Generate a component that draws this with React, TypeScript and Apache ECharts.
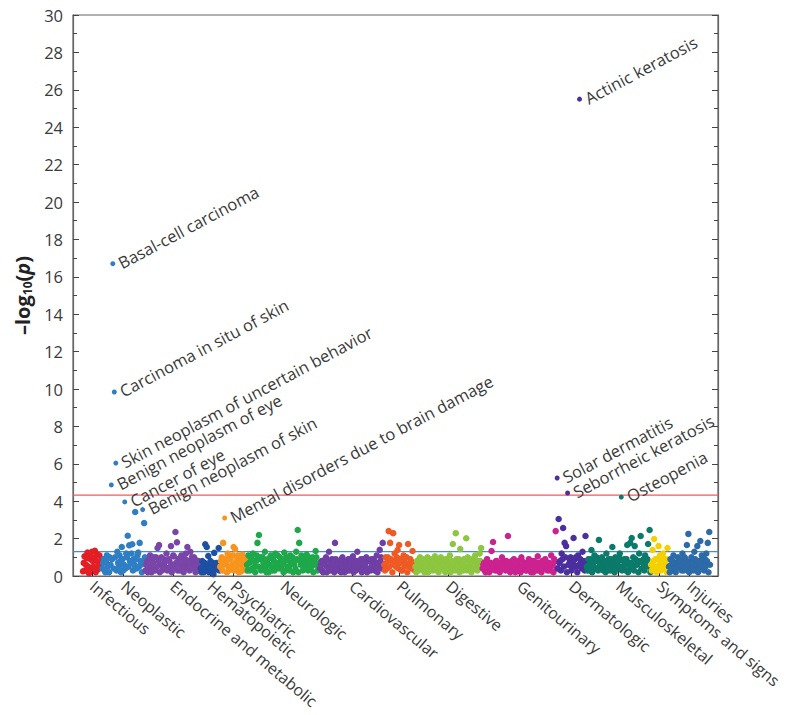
import React, { useEffect, useRef } from "react";
import * as echarts from "echarts";

const categories = [
  "Infectious", "Neoplastic", "Endocrine and metabolic", "Hematopoietic", "Psychiatric",
  "Neurologic", "Cardiovascular", "Pulmonary", "Digestive", "Genitourinary",
  "Dermatologic", "Musculoskeletal", "Symptoms and signs", "Injuries",
];
const colors = [
  "#e31e24", "#2f7ec4", "#7a45a8", "#1d4fa3", "#f7941d",
  "#1ea84a", "#6f3fa5", "#ee5a24", "#8dc63f", "#cc2290",
  "#4b2f9f", "#0b7a6b", "#f5d000", "#2c6aa8",
];

const infectious = [0.25, 0.7, 1.05, 0.3, 0.6, 0.95, 1.25, 0.5, 0.15, 1.1, 0.9, 0.4, 1.3, 0.8, 0.5, 1.0, 1.35, 0.2, 0.8, 1.15, 0.35, 0.6, 1.1, 0.45, 0.65, 0.9];
const neoplastic = [0.4, 0.7, 0.9, 0.3, 0.2, 0.8, 1.1, 0.5, 0.6, 0.2, 1.0, 0.6, 4.87, 0.9, 16.7, 0.4, 9.84, 1.0, 6.04, 0.3, 1.3, 0.7, 0.5, 1.1, 0.8, 0.2, 1.55, 0.9, 0.3, 0.6, 3.96, 0.4, 1.2, 1.0, 2.15, 0.5, 1.64, 0.8, 0.7, 1.2, 1.7, 0.3, 0.9, 0.6, 3.42, 0.9, 0.4, 1.1, 1.25, 0.5, 1.77, 0.8, 0.6, 0.2, 3.55, 0.7, 2.83, 1.0];
const endocrine = [0.3, 0.6, 0.8, 0.2, 0.5, 0.9, 1.1, 0.4, 0.2, 0.7, 0.7, 1.0, 0.4, 0.3, 1.0, 0.5, 1.5, 0.8, 1.65, 0.2, 0.6, 1.0, 0.3, 0.6, 0.9, 0.4, 0.5, 0.8, 1.2, 0.3, 0.4, 0.9, 0.8, 0.5, 1.6, 0.2, 0.6, 1.1, 1.05, 0.4, 2.35, 0.7, 1.8, 0.3, 0.9, 0.6, 0.3, 1.0, 1.1, 0.5, 0.7, 0.2, 0.5, 0.9, 1.2, 0.4, 1.55, 0.7, 0.8, 0.3, 1.3, 0.6, 1.0, 0.8, 0.4, 1.0, 0.9, 0.2, 0.6, 0.5, 0.3, 0.8, 0.7, 0.4];
const hematopoietic = [0.4, 0.2, 0.8, 0.5, 0.2, 0.7, 1.7, 0.3, 1.55, 0.6, 1.07, 0.2, 0.5, 0.8, 0.3, 0.5, 0.7, 0.1, 1.24, 0.4, 0.6, 0.7, 0.35, 0.5, 1.5, 0.3];
const psychiatric = [0.5, 0.8, 1.0, 0.3, 1.77, 0.6, 3.1, 0.9, 0.7, 0.2, 1.2, 0.5, 0.3, 1.0, 0.9, 0.4, 0.6, 1.1, 1.55, 0.3, 1.44, 0.7, 0.4, 0.9, 1.1, 0.2, 0.8, 0.6, 0.25, 1.0, 1.15, 0.4, 0.6, 0.8, 0.9, 0.3];
const neurologic = [0.6, 0.3, 1.1, 0.7, 0.3, 1.0, 0.9, 0.4, 1.2, 0.8, 0.5, 0.2, 0.8, 1.1, 1.77, 0.5, 2.19, 0.9, 1.0, 0.3, 0.4, 1.0, 0.7, 0.6, 1.3, 0.4, 0.2, 0.8, 0.9, 0.2, 0.6, 1.0, 1.1, 0.5, 0.3, 0.9, 0.8, 0.3, 1.2, 0.7, 0.5, 1.1, 0.7, 0.4, 1.0, 0.6, 0.4, 0.9, 0.6, 0.2, 1.25, 0.8, 0.3, 1.0, 0.9, 0.5, 0.5, 0.3, 1.1, 0.7, 0.7, 1.0, 0.2, 0.6, 0.8, 0.4, 1.3, 0.9, 2.46, 0.2, 1.77, 0.8, 0.6, 1.1, 1.0, 0.3, 0.4, 0.7, 0.9, 0.5, 1.15, 0.9, 0.3, 1.0, 0.7, 0.4, 0.5, 0.8, 1.0, 0.2, 0.8, 0.6, 1.34, 1.0, 0.6, 0.3, 0.4, 0.7];
const cardiovascular = [0.4, 0.6, 0.8, 0.3, 0.2, 0.7, 0.6, 0.9, 1.0, 0.2, 0.5, 0.5, 1.3, 0.8, 0.3, 0.4, 0.9, 0.6, 0.7, 0.2, 1.77, 0.9, 0.4, 0.5, 0.8, 0.3, 0.6, 0.7, 0.2, 0.9, 1.0, 0.4, 0.5, 0.2, 0.7, 0.8, 0.3, 0.6, 0.9, 0.3, 0.6, 0.9, 0.4, 0.7, 1.05, 0.2, 0.8, 0.5, 0.3, 0.8, 1.3, 0.4, 0.5, 0.6, 0.7, 0.9, 0.2, 0.3, 0.9, 0.5, 0.6, 0.7, 1.0, 0.2, 0.4, 0.8, 0.8, 0.4, 0.3, 0.9, 0.6, 0.6, 0.9, 0.3, 0.5, 0.7, 1.1, 0.2, 0.7, 0.5, 1.4, 0.8, 1.0, 0.4, 1.77, 0.6];
const pulmonary = [0.6, 0.3, 1.0, 0.7, 0.4, 1.0, 2.4, 0.5, 1.77, 0.9, 0.8, 0.2, 2.29, 0.6, 1.2, 0.8, 0.5, 1.0, 1.39, 0.4, 1.66, 0.7, 0.9, 0.3, 0.3, 0.9, 1.1, 0.5, 0.7, 1.0, 1.0, 0.2, 1.71, 0.6, 0.5, 0.9, 0.8, 0.4, 1.34, 0.7, 0.6, 0.3];
const digestive = [0.5, 0.2, 0.8, 0.6, 0.3, 0.9, 1.0, 0.4, 0.6, 0.7, 0.9, 0.3, 0.2, 0.8, 0.7, 0.5, 1.0, 0.2, 0.4, 0.9, 0.8, 0.6, 0.5, 0.3, 0.9, 0.7, 1.05, 0.4, 0.3, 0.9, 0.7, 0.2, 0.6, 0.8, 1.0, 0.5, 0.4, 0.6, 0.8, 0.3, 0.2, 0.9, 0.9, 0.4, 0.6, 0.7, 1.1, 0.2, 0.5, 0.8, 1.71, 0.5, 0.7, 0.3, 2.29, 0.9, 0.4, 0.6, 0.9, 0.2, 1.44, 0.7, 0.6, 0.4, 0.3, 0.9, 0.8, 0.5, 2.02, 0.3, 1.0, 0.8, 0.5, 0.6, 0.7, 0.2, 0.9, 0.4, 0.4, 0.9, 1.1, 0.7, 0.6, 0.3, 0.8, 0.5, 1.2, 0.8, 1.5, 0.6];
const genitourinary = [0.4, 0.6, 0.7, 0.3, 0.2, 0.8, 0.9, 0.5, 0.5, 0.2, 0.3, 0.7, 1.34, 0.4, 1.82, 0.6, 0.6, 0.3, 0.8, 0.8, 0.3, 0.5, 0.7, 0.2, 0.5, 0.7, 1.0, 0.4, 0.4, 0.8, 0.6, 0.3, 0.8, 0.6, 2.14, 0.5, 0.3, 0.2, 0.7, 0.8, 0.5, 0.4, 0.9, 0.6, 0.2, 0.3, 0.6, 0.7, 0.8, 0.5, 0.4, 0.2, 1.0, 0.8, 0.5, 0.4, 0.7, 0.6, 0.3, 0.3, 0.6, 0.7, 0.9, 0.5, 0.4, 0.2, 0.8, 0.6, 0.2, 0.8, 0.7, 0.4, 0.5, 0.3, 1.05, 0.7, 0.3, 0.5, 0.6, 0.2, 0.8, 0.6, 0.4, 0.8, 0.9, 0.4, 0.5, 0.3, 0.7, 0.7, 0.3, 0.5, 1.1, 0.6, 0.6, 0.2, 0.9, 0.8, 2.4, 0.4];
const dermatologic = [5.24, 0.4, 3.05, 0.7, 0.8, 0.3, 1.2, 0.9, 2.57, 0.5, 1.77, 1.0, 1.6, 0.2, 4.44, 0.6, 0.6, 0.8, 1.0, 0.3, 0.4, 0.7, 2.03, 0.5, 0.9, 1.0, 0.5, 0.2, 1.1, 0.6, 25.5, 0.9, 0.7, 0.4, 1.3, 0.7, 0.8, 0.3, 2.14, 0.6];
const musculoskeletal = [0.5, 0.3, 0.9, 0.6, 0.3, 0.9, 1.39, 0.2, 0.7, 0.5, 1.1, 0.8, 0.4, 1.0, 0.8, 0.3, 1.93, 0.6, 0.6, 0.9, 1.0, 0.4, 0.3, 0.7, 0.8, 0.2, 1.2, 0.5, 0.5, 0.9, 0.7, 0.3, 0.9, 0.6, 1.55, 0.8, 0.4, 0.2, 1.0, 0.7, 0.6, 0.4, 0.8, 1.0, 1.2, 0.5, 4.22, 0.3, 0.5, 0.8, 0.9, 0.6, 0.3, 0.9, 1.66, 0.2, 0.7, 0.4, 1.77, 0.7, 2.03, 0.5, 1.0, 0.3, 1.6, 0.9, 0.6, 0.6, 0.8, 0.2, 1.2, 0.8, 2.14, 0.4, 0.4, 0.7, 0.9, 0.3, 1.1, 0.6, 0.7, 0.9, 1.71, 0.5, 2.46, 0.2];
const symptoms = [0.6, 0.3, 1.39, 0.8, 1.98, 0.5, 0.9, 0.2, 0.4, 0.9, 1.6, 0.6, 1.1, 0.3, 0.7, 1.0, 1.2, 0.4, 0.5, 0.8, 0.9, 0.2, 1.5, 0.6];
const injuries = [0.5, 0.2, 0.9, 0.6, 0.3, 0.8, 1.1, 0.4, 0.7, 0.2, 0.4, 0.7, 1.0, 0.5, 0.6, 0.9, 0.8, 0.3, 1.2, 0.6, 0.3, 1.0, 0.9, 0.4, 1.66, 0.7, 2.25, 0.2, 0.5, 0.8, 1.0, 0.5, 0.7, 0.3, 1.3, 0.9, 0.4, 0.6, 1.6, 0.2, 0.8, 0.7, 1.87, 0.4, 1.1, 0.9, 0.6, 0.3, 0.9, 0.5, 1.2, 0.8, 1.77, 0.2, 2.35, 0.6];

const categoryValues = [
  infectious, neoplastic, endocrine, hematopoietic, psychiatric, neurologic, cardiovascular,
  pulmonary, digestive, genitourinary, dermatologic, musculoskeletal, symptoms, injuries,
];

const annotations = [
  { category: "Neoplastic", index: 14, label: "Basal-cell carcinoma" },
  { category: "Neoplastic", index: 16, label: "Carcinoma in situ of skin" },
  { category: "Neoplastic", index: 18, label: "Skin neoplasm of uncertain behavior" },
  { category: "Neoplastic", index: 12, label: "Benign neoplasm of eye" },
  { category: "Neoplastic", index: 30, label: "Cancer of eye" },
  { category: "Neoplastic", index: 54, label: "Benign neoplasm of skin" },
  { category: "Psychiatric", index: 6, label: "Mental disorders due to brain damage" },
  { category: "Dermatologic", index: 30, label: "Actinic keratosis" },
  { category: "Dermatologic", index: 0, label: "Solar dermatitis" },
  { category: "Dermatologic", index: 14, label: "Seborrheic keratosis" },
  { category: "Musculoskeletal", index: 46, label: "Osteopenia" },
];

const bonferroniLine = 4.33;
const nominalLine = 1.3;
const yMin = 0;
const yMax = 30;
const yInterval = 2;

const FONT = "'Open Sans', sans-serif";
const TEXT = "#3a3a3a";

export default function App() {
  const ref = useRef<HTMLDivElement>(null);
  useEffect(() => {
    if (!ref.current) return;
    const chart = echarts.init(ref.current, null, { renderer: "svg" });
    const W = 786;
    const H = 715;
    const plotLeft = 73, plotRight = 718, plotTop = 15, plotBottom = 576;
    const firstPt = 83, lastPt = 710;
    let offset = 0;
    const centers: number[] = [];
    const series: any[] = categories.map((name, ci) => {
      const vals = categoryValues[ci];
      const data = vals.map((v, i) => {
        const ann = annotations.find((a) => a.category === name && a.index === i);
        const item: any = { value: [offset + i, v] };
        if (ann) {
          item.symbolSize = 5;
          item.label = {
            show: true,
            formatter: ann.label,
            position: "right",
            distance: 4,
            rotate: 28,
            color: TEXT,
            fontSize: 16.5,
            fontFamily: FONT,
          };
        }
        return item;
      });
      centers.push(offset + (vals.length - 1) / 2);
      offset += vals.length;
      return {
        type: "scatter",
        name,
        data,
        z: 3,
        symbolSize: 6.5,
        itemStyle: { color: colors[ci], opacity: 1 },
        emphasis: { disabled: true },
        labelLayout: { hideOverlap: false },
      };
    });
    const n = offset;
    const ppu = (lastPt - firstPt) / (n - 1);
    const xMin = -(firstPt - plotLeft) / ppu;
    const xMax = n - 1 + (plotRight - lastPt) / ppu;

    const thresholds = [
      { value: nominalLine, color: "#3d8fd6", width: 1.3 },
      { value: bonferroniLine, color: "#ef5b5b", width: 1.2 },
    ];
    thresholds.forEach((t) => {
      series.push({
        type: "line",
        data: [[xMin, t.value], [xMax, t.value]],
        symbol: "none",
        silent: true,
        z: 2,
        lineStyle: { color: t.color, width: t.width, type: "solid" },
        itemStyle: { color: t.color },
        emphasis: { disabled: true },
      });
    });

    const nameFor = (v: number) => {
      let best = 0;
      for (let i = 1; i < centers.length; i++) {
        if (Math.abs(centers[i] - v) < Math.abs(centers[best] - v)) best = i;
      }
      return categories[best];
    };

    chart.setOption({
      animation: false,
      grid: {
        left: plotLeft, right: W - plotRight, top: plotTop, bottom: H - plotBottom,
        containLabel: false,
        outerBoundsMode: "none",
        show: true, borderColor: "#666", borderWidth: 1.2, backgroundColor: "transparent",
      },
      xAxis: {
        type: "value",
        min: xMin,
        max: xMax,
        splitLine: { show: false },
        axisLine: { show: true, onZero: false, lineStyle: { color: "#666", width: 1.2 } },
        axisTick: { show: true, inside: true, length: 6, lineStyle: { color: "#222" }, customValues: centers },
        axisLabel: {
          customValues: centers,
          formatter: (v: number) => nameFor(v),
          rotate: -40,
          fontSize: 16,
          fontFamily: FONT,
          color: TEXT,
          margin: 8,
        },
      },
      yAxis: [
        {
          type: "value",
          min: yMin,
          max: yMax,
          interval: yInterval,
          name: "{a|–log}{sub|10}{a|(}{i|p}{a|)}",
          nameLocation: "middle",
          nameGap: 33,
          nameRotate: 90,
          nameTextStyle: {
            rich: {
              a: { fontSize: 20, fontWeight: "bold", fontFamily: FONT, color: "#222" },
              sub: { fontSize: 12, fontWeight: "bold", fontFamily: FONT, color: "#222", padding: [10, 0, 0, 0] },
              i: { fontSize: 20, fontWeight: "bold", fontStyle: "italic", fontFamily: FONT, color: "#222" },
            },
          },
          splitLine: { show: false },
          axisLine: { show: true, onZero: false, lineStyle: { color: "#666", width: 1.2 } },
          axisTick: { show: true, inside: true, length: 6, lineStyle: { color: "#444" } },
          minorTick: { show: true, splitNumber: 2, length: 4, lineStyle: { color: "#444" } },
          axisLabel: { fontSize: 16.5, fontFamily: FONT, color: TEXT, margin: 10 },
        },
        {
          type: "value",
          position: "right",
          min: yMin,
          max: yMax,
          interval: yInterval,
          splitLine: { show: false },
          axisLine: { show: true, onZero: false, lineStyle: { color: "#666", width: 1.2 } },
          axisTick: { show: true, inside: true, length: 6, lineStyle: { color: "#444" } },
          minorTick: { show: true, splitNumber: 2, length: 4, lineStyle: { color: "#444" } },
          axisLabel: { show: false },
        },
      ],
      series,
    });
    return () => chart.dispose();
  }, []);
  return (
    <div
      ref={ref}
      style={{ position: "absolute", left: 0, top: 0, width: 786, height: 715, background: "#fff" }}
    />
  );
}
